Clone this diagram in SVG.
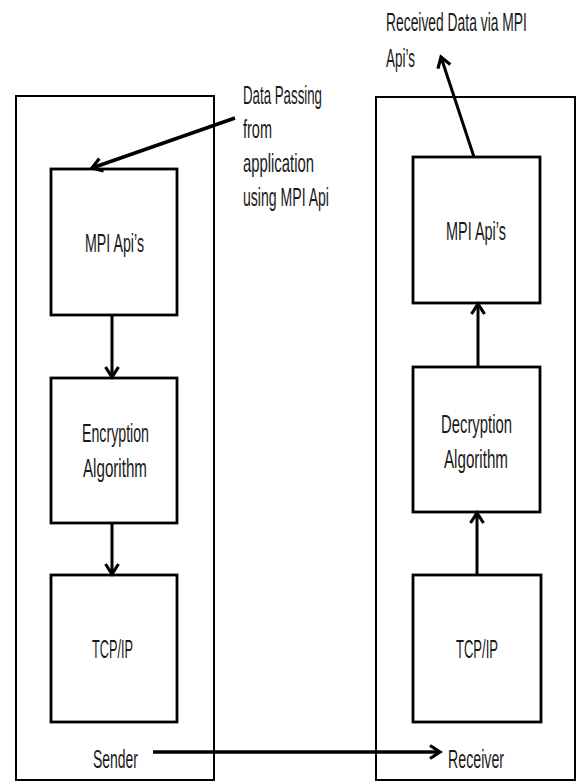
<svg xmlns="http://www.w3.org/2000/svg" width="578" height="782" viewBox="0 0 578 782">
<style>
.bg{fill:#ffffff}
.outer{fill:none;stroke:#000;stroke-width:2}
.box{fill:#ffffff;stroke:#000;stroke-width:2.8}
.t{font-family:"Liberation Sans","DejaVu Sans",sans-serif;font-size:26px;fill:#1a1a1a}
.c{fill:none;stroke:#000;stroke-width:3}
.ch{fill:none;stroke:#000;stroke-width:3.5}
</style>
<defs>
<marker id="ah" markerUnits="userSpaceOnUse" markerWidth="18" markerHeight="18" viewBox="0 0 18 18" refX="15" refY="9" orient="auto">
<path d="M5,2.5 L15,9 L5,15.5" fill="none" stroke="#000" stroke-width="3.2"/>
</marker>
</defs>
<rect class="bg" x="0" y="0" width="578" height="782"/>
<g id="sender">
<rect class="outer" x="16" y="96" width="198" height="684"/>
<text class="t" x="93" y="768" textLength="45" lengthAdjust="spacingAndGlyphs">Sender</text>
</g>
<g id="receiver">
<rect class="outer" x="376" y="97" width="199" height="683"/>
<text class="t" x="448" y="768" textLength="56" lengthAdjust="spacingAndGlyphs">Receiver</text>
</g>
<g id="s-mpi">
<rect class="box" x="51" y="169" width="126" height="146"/>
<text class="t" x="85" y="252" textLength="59" lengthAdjust="spacingAndGlyphs">MPI Api’s</text>
</g>
<g id="s-enc">
<rect class="box" x="51" y="378" width="126" height="145"/>
<text class="t" x="82" y="442" textLength="67" lengthAdjust="spacingAndGlyphs">Encryption</text>
<text class="t" x="83" y="477" textLength="64" lengthAdjust="spacingAndGlyphs">Algorithm</text>
</g>
<g id="s-tcp">
<rect class="box" x="51" y="575" width="126" height="147"/>
<text class="t" x="92" y="658" textLength="41" lengthAdjust="spacingAndGlyphs">TCP/IP</text>
</g>
<g id="r-mpi">
<rect class="box" x="413" y="157" width="127" height="146"/>
<text class="t" x="446" y="240" textLength="60" lengthAdjust="spacingAndGlyphs">MPI Api’s</text>
</g>
<g id="r-dec">
<rect class="box" x="413" y="367" width="127" height="145"/>
<text class="t" x="441" y="433" textLength="71" lengthAdjust="spacingAndGlyphs">Decryption</text>
<text class="t" x="444" y="468" textLength="64" lengthAdjust="spacingAndGlyphs">Algorithm</text>
</g>
<g id="r-tcp">
<rect class="box" x="413" y="575" width="128" height="147"/>
<text class="t" x="456" y="658" textLength="42" lengthAdjust="spacingAndGlyphs">TCP/IP</text>
</g>
<g id="label-in">
<text class="t" x="243" y="104" textLength="79" lengthAdjust="spacingAndGlyphs">Data Passing</text>
<text class="t" x="243" y="138" textLength="29" lengthAdjust="spacingAndGlyphs">from</text>
<text class="t" x="243" y="172" textLength="71" lengthAdjust="spacingAndGlyphs">application</text>
<text class="t" x="243" y="206" textLength="86" lengthAdjust="spacingAndGlyphs">using MPI Api</text>
</g>
<g id="label-out">
<text class="t" transform="translate(386,31) scale(0.533,1)" x="0" y="0">Received Data via MPI</text>
<text class="t" x="386" y="67" textLength="29" lengthAdjust="spacingAndGlyphs">Api’s</text>
</g>
<g id="connectors">
<line class="c" x1="112" y1="315" x2="112" y2="377" marker-end="url(#ah)"/>
<line class="c" x1="112" y1="523" x2="112" y2="574" marker-end="url(#ah)"/>
<line class="c" x1="477" y1="575" x2="477" y2="513" marker-end="url(#ah)"/>
<line class="c" x1="478" y1="367" x2="478" y2="304" marker-end="url(#ah)"/>
<line class="ch" x1="235" y1="118" x2="92" y2="168" marker-end="url(#ah)"/>
<line class="c" x1="474" y1="157" x2="441" y2="57" marker-end="url(#ah)"/>
<line class="ch" x1="153" y1="752" x2="440" y2="752" marker-end="url(#ah)"/>
</g>
</svg>
